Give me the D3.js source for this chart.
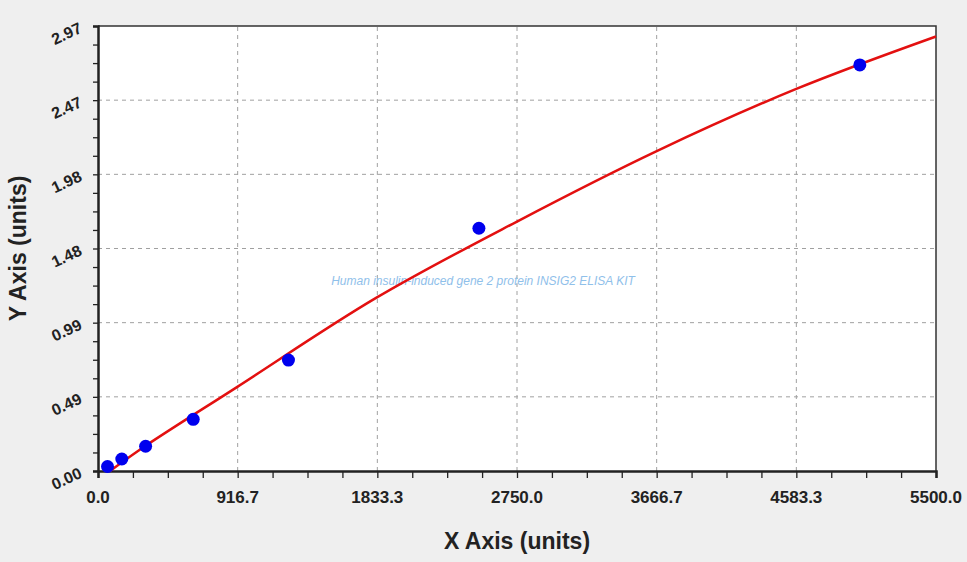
<!DOCTYPE html>
<html>
<head>
<meta charset="utf-8">
<script src="https://cdn.jsdelivr.net/npm/d3@7"></script>
<style>
  html, body { margin: 0; padding: 0; background: #efefef; }
  svg { display: block; font-family: "Liberation Sans", Arial, sans-serif; }
</style>
</head>
<body>
<div id="chart"></div>
<script>
// Standard curve data
const stdConc = [62.5, 156.25, 312.5, 625, 1250, 2500, 5000];
const stdOD = [0.03, 0.08, 0.165, 0.345, 0.74, 1.62, 2.71];

// Fitted curve, sampled along the red line
const fitConc = [79, 308, 912, 1825, 2750, 3667, 4583, 5500];
const fitOD = [0.0, 0.165, 0.56, 1.155, 1.665, 2.135, 2.55, 2.90];

const xTicks = [0, 916.7, 1833.3, 2750.0, 3666.7, 4583.3, 5500.0];
const yTicks = [0, 0.495, 0.99, 1.485, 1.98, 2.475, 2.97];
const yTickLabels = ["0.00", "0.49", "0.99", "1.48", "1.98", "2.47", "2.97"];

const width = 967, height = 562;
const margin = { left: 98, right: 31, top: 26, bottom: 91 };
const plotW = width - margin.left - margin.right;
const plotH = height - margin.top - margin.bottom;

const svg = d3.select("#chart").append("svg")
    .attr("width", width)
    .attr("height", height);

svg.append("rect")
    .attr("width", width)
    .attr("height", height)
    .attr("fill", "#efefef");

const x = d3.scaleLinear().domain([0, 5500]).range([margin.left, margin.left + plotW]);
const y = d3.scaleLinear().domain([0, 2.97]).range([margin.top + plotH, margin.top]);

// plot background
svg.append("rect")
    .attr("x", x(0)).attr("y", y(2.97))
    .attr("width", plotW).attr("height", plotH)
    .attr("fill", "white");

// grid
const grid = svg.append("g")
    .attr("stroke", "#a0a0a0")
    .attr("stroke-width", 1)
    .attr("stroke-dasharray", "4,4");
grid.selectAll(".gx").data(xTicks.slice(1, -1)).join("line")
    .attr("x1", d => x(d)).attr("x2", d => x(d))
    .attr("y1", y(0)).attr("y2", y(2.97));
grid.selectAll(".gy").data(yTicks.slice(1, -1)).join("line")
    .attr("y1", d => y(d)).attr("y2", d => y(d))
    .attr("x1", x(0)).attr("x2", x(5500));

// frame (top and right)
svg.append("path")
    .attr("d", `M${x(0)},${y(2.97)}H${x(5500)}V${y(0)}`)
    .attr("fill", "none")
    .attr("stroke", "#333")
    .attr("stroke-width", 1.5);

// minor tick values (4 divisions per major)
const xMinor = d3.range(0, 24.5).map(i => i * 5500 / 24);
const yMinor = d3.range(0, 24.5).map(i => i * 2.97 / 24);

const xAxis = svg.append("g")
    .attr("transform", `translate(0,${y(0)})`)
    .call(d3.axisBottom(x).tickValues(xMinor).tickSize(7).tickFormat(""));
const yAxis = svg.append("g")
    .attr("transform", `translate(${x(0)},0)`)
    .call(d3.axisLeft(y).tickValues(yMinor).tickSize(5).tickFormat(""));
[xAxis, yAxis].forEach(a => {
    a.select(".domain").attr("stroke", "#222").attr("stroke-width", 2.5);
    a.selectAll(".tick line").attr("stroke", "#222").attr("stroke-width", 1.3);
});

// x tick labels
svg.append("g").selectAll("text").data(xTicks).join("text")
    .attr("x", d => x(d))
    .attr("y", y(0) + 32)
    .attr("text-anchor", "middle")
    .attr("font-size", 17)
    .attr("font-weight", "bold")
    .attr("fill", "#222")
    .text(d => d.toFixed(1));

// y tick labels (slanted)
svg.append("g").selectAll("text").data(yTicks).join("text")
    .attr("transform", d => `translate(${x(0) - 15},${y(d) + 6}) rotate(-25)`)
    .attr("text-anchor", "end")
    .attr("font-size", 16)
    .attr("font-weight", "bold")
    .attr("fill", "#222")
    .text((d, i) => yTickLabels[i]);

// axis titles
svg.append("text")
    .attr("x", 517)
    .attr("y", 549)
    .attr("text-anchor", "middle")
    .attr("font-size", 23)
    .attr("font-weight", "bold")
    .attr("fill", "#222")
    .text("X Axis (units)");

svg.append("text")
    .attr("transform", `translate(26,${(y(0) + y(2.97)) / 2}) rotate(-90)`)
    .attr("text-anchor", "middle")
    .attr("font-size", 23)
    .attr("font-weight", "bold")
    .attr("fill", "#222")
    .text("Y Axis (units)");

// watermark title
svg.append("text")
    .attr("x", 483)
    .attr("y", 285)
    .attr("text-anchor", "middle")
    .attr("font-size", 12)
    .attr("font-style", "italic")
    .attr("fill", "#8fc0ea")
    .text("Human insulin-induced gene 2 protein INSIG2 ELISA KIT");

// fitted curve
const fit = fitConc.map((c, i) => [c, fitOD[i]]);
svg.append("path")
    .datum(fit)
    .attr("fill", "none")
    .attr("stroke", "#e31010")
    .attr("stroke-width", 2.5)
    .attr("d", d3.line().x(d => x(d[0])).y(d => y(d[1])).curve(d3.curveCatmullRom));

// standard points
svg.append("g").selectAll("circle").data(stdConc).join("circle")
    .attr("cx", d => x(d))
    .attr("cy", (d, i) => y(stdOD[i]))
    .attr("r", 6.5)
    .attr("fill", "#0000ee");
</script>
</body>
</html>
